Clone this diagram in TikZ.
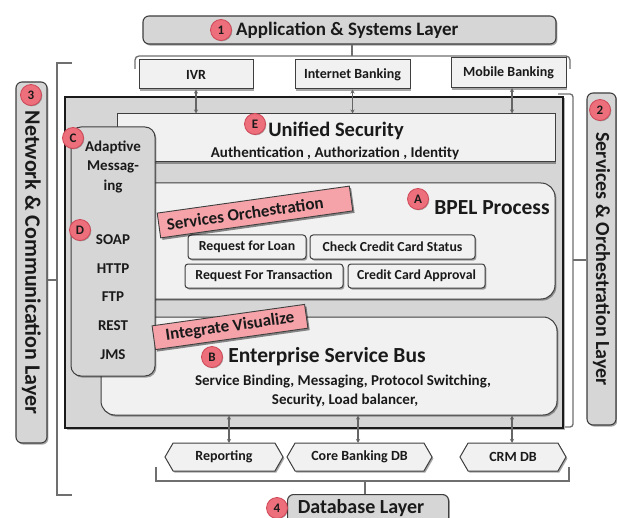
\documentclass[tikz,border=0pt]{standalone}
\usepackage{fontspec}
\setmainfont{Carlito}
\usetikzlibrary{shapes.symbols,shadows,arrows.meta}
\definecolor{edge}{HTML}{3F3F3F}
\definecolor{ink}{HTML}{1A1A1A}
\definecolor{panel}{HTML}{D6D6D6}
\definecolor{paper}{HTML}{F1F1F1}
\definecolor{pinkfill}{HTML}{F5A3A9}
\definecolor{badgefill}{HTML}{EC6F7B}
\definecolor{badgeedge}{HTML}{CF4858}
\newcommand{\fs}[1]{\bfseries\fontsize{#1}{#1}\selectfont}
\tikzset{
  softshadow/.style={drop shadow={shadow xshift=1.4pt, shadow yshift=-1.6pt, opacity=0.35, fill=black}},
  layerbox/.style={draw=edge, fill=panel, line width=1.1pt, rounded corners=6pt, inner sep=0pt, text=ink, softshadow},
  appbox/.style={draw=edge, fill=paper, line width=1pt, inner sep=0pt, text=ink, font=\fs{14}, softshadow},
  btn/.style={draw=edge, fill=paper, line width=1pt, rounded corners=3pt, inner sep=0pt, text=ink, font=\fs{13.8}, minimum height=24pt, softshadow},
  dbshape/.style={signal, signal to=east and west, signal pointer angle=120, draw=edge, fill=paper, line width=1pt, inner sep=0pt, text=ink, font=\fs{14}, minimum height=28pt, softshadow},
  badge/.style={circle, fill=badgefill, draw=badgeedge, line width=0.8pt, minimum size=21pt, inner sep=0pt, text=ink, font=\fs{13},
    drop shadow={shadow xshift=0.8pt, shadow yshift=-0.8pt, opacity=0.3, fill=black}},
  tag/.style={draw=edge, fill=pinkfill, line width=0.9pt, inner sep=0pt, text=ink, font=\fs{17}, rotate=8,
    drop shadow={shadow xshift=1.8pt, shadow yshift=-2pt, opacity=0.45, fill=black}},
  plain/.style={inner sep=0pt, text=ink},
  link/.style={draw=edge!80, line width=1.2pt, {Stealth[length=4pt,width=4pt]}-{Stealth[length=4pt,width=4pt]}},
  bracket/.style={draw=edge!75, line width=1.3pt},
}
\begin{document}
\begin{tikzpicture}[x=1pt, y=-1pt]
\clip (0,0) rectangle (617,518);
\fill[white] (0,0) rectangle (617,518);

% ---------- layer labels ----------
\node[layerbox, minimum width=413pt, minimum height=28pt] (applayer) at (349.5,30) {};
\node[plain, font=\fs{19}, anchor=west] (apptext) at (236,30.5) {Application \& Systems Layer};
\node[badge] (b1) at (221,30) {1};

\node[layerbox, rotate=-90, minimum width=361pt, minimum height=31pt, font=\fs{22}] (netlayer) at (31.5,262.5) {Network \& Communication Layer};
\node[badge] (b3) at (31,95) {3};

\node[layerbox, rotate=-90, minimum width=332pt, minimum height=29pt, font=\fs{20}] (svclayer) at (601.5,259) {Services \& Orchestration Layer};
\node[badge] (b2) at (600,110) {2};

% ---------- channels ----------
\node[appbox, minimum width=114pt, minimum height=29pt] (ivr) at (196,74.5) {IVR};
\node[appbox, minimum width=115pt, minimum height=29pt] (inet) at (352.5,74.5) {Internet Banking};
\node[appbox, minimum width=115pt, minimum height=30pt] (mobile) at (508.5,73) {Mobile Banking};

% brace grouping the channels
\coordinate (tl) at (135,69);
\coordinate (tr) at (570,69);
\coordinate (tmid) at (352,56);
\draw[bracket, rounded corners=4pt] (tl) -- (135,56) -- (570,56) -- (tr);
\draw[bracket] (applayer.south -| tmid) -- (tmid);

% ---------- platform ----------
\node[draw=ink, fill=panel, line width=2pt, minimum width=498pt, minimum height=331pt, inner sep=0pt,
  drop shadow={shadow xshift=1.5pt, shadow yshift=-1.5pt, opacity=0.3, fill=black}] (core) at (314,262.5) {};

\node[draw=edge, fill=paper, line width=1pt, minimum width=438pt, minimum height=48pt, inner sep=0pt, softshadow] (unified) at (336,138) {};
\node[plain, font=\fs{20.5}] (unifiedtitle) at (336,131) {Unified Security};
\node[plain, font=\fs{15}] (unifiedsub) at (335,153.5) {Authentication , Authorization , Identity};
\node[badge] (bE) at (255,124) {E};

\node[draw=edge, fill=paper, line width=1pt, rounded corners=14pt, minimum width=415pt, minimum height=116pt, inner sep=0pt, softshadow] (bpel) at (347.5,241) {};
\node[plain, font=\fs{21.5}] (bpeltitle) at (492,208) {BPEL Process};
\node[badge] (bA) at (418,199) {A};

\node[btn, minimum width=118pt] (loan) at (247,247) {Request for Loan};
\node[btn, minimum width=165pt] (ccstatus) at (392.5,247) {Check Credit Card Status};
\node[btn, minimum width=158pt] (txn) at (264,276) {Request For Transaction};
\node[btn, minimum width=137pt] (ccapprove) at (416.5,276) {Credit Card Approval};

\node[draw=edge, fill=paper, line width=1pt, rounded corners=14pt, minimum width=456pt, minimum height=98pt, inner sep=0pt, softshadow] (esb) at (329,366) {};
\node[plain, font=\fs{21.5}] (esbtitle) at (327,357) {Enterprise Service Bus};
\node[plain, font=\fs{15}] (esbl1) at (343,382) {Service Binding, Messaging, Protocol Switching,};
\node[plain, font=\fs{15}] (esbl2) at (345,400) {Security, Load balancer,};
\node[badge] (bB) at (212,357) {B};

% adaptive messaging column
\node[draw=edge, fill=panel, line width=1pt, rounded corners=10pt, minimum width=84pt, minimum height=249pt, inner sep=0pt, softshadow] (adaptive) at (113,251.5) {};
\node[plain, font=\fs{15}] (am1) at (113,147) {Adaptive};
\node[plain, font=\fs{15}] (am2) at (113,167) {Messag-};
\node[plain, font=\fs{15}] (am3) at (113,187) {ing};
\node[plain, font=\fs{15}] (soap) at (113,240) {SOAP};
\node[plain, font=\fs{15}] (http) at (113,268.5) {HTTP};
\node[plain, font=\fs{15}] (ftp) at (113,297) {FTP};
\node[plain, font=\fs{15}] (rest) at (113,326) {REST};
\node[plain, font=\fs{15}] (jms) at (113,355) {JMS};
\node[badge] (bC) at (73,138) {C};
\node[badge] (bD) at (80,230) {D};

% pink callouts
\node[tag, minimum width=194pt, minimum height=25pt] (orch) at (255,212) {\hspace*{-20pt}Services Orchestration};
\node[tag, minimum width=154pt, minimum height=24pt] (integ) at (230,327) {Integrate Visualize};

% channel links
\coordinate (mdrop) at (512,88);
\draw[link] (ivr.south) -- (ivr.south |- unified.north);
\draw[link] (inet.south) -- (inet.south |- unified.north);
\draw[link] (mdrop) -- (mdrop |- unified.north);

% ---------- databases ----------
\node[dbshape, minimum width=118pt] (rep) at (224,457) {Reporting};
\node[dbshape, minimum width=145pt] (corebank) at (359.5,457) {Core Banking DB};
\node[dbshape, minimum width=106pt] (crm) at (513,457) {CRM DB};

\coordinate (r1) at (229,443);
\coordinate (r2) at (358,443);
\coordinate (r3) at (512,443);
\draw[link] (r1 |- esb.south) -- (r1);
\draw[link] (r2 |- esb.south) -- (r2);
\draw[link] (r3 |- esb.south) -- (r3);

% brace grouping the databases
\draw[bracket] (156,467) -- (156,481) -- (569,481) -- (569,467);
\node[layerbox, minimum width=161pt, minimum height=34pt, anchor=north west] (dblayer) at (287,494) {};
\coordinate (bmid) at (365,481);
\draw[bracket] (bmid) -- (dblayer.north -| bmid);
\node[plain, font=\fs{20}] (dbtext) at (361,508.5) {Database Layer};
\node[badge] (b4) at (277,508) {4};

% ---------- side brackets ----------
\coordinate (ltick) at (57,280);
\coordinate (rtick) at (573,260);
\draw[bracket] (72,63) -- (57,63) -- (57,495) -- (72,495);
\draw[bracket] (ltick) -- (netlayer.north |- ltick);
\draw[bracket, rounded corners=3pt] (558,94) -- (573,94) -- (573,427) -- (565,427);
\draw[bracket] (rtick) -- (svclayer.south |- rtick);
\end{tikzpicture}
\end{document}
